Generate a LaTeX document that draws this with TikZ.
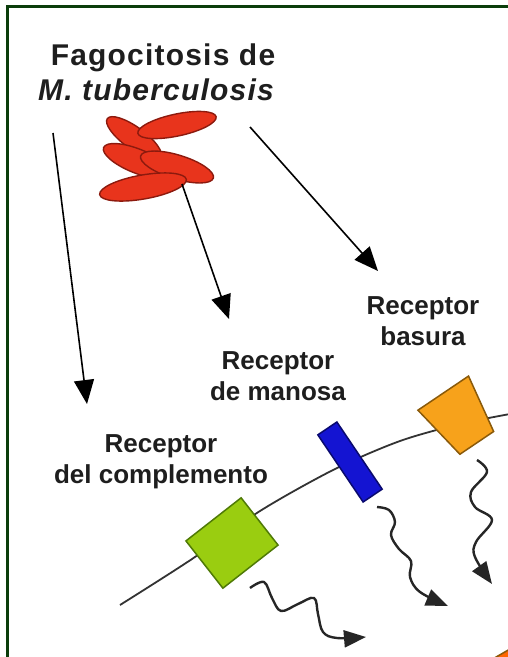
\documentclass[tikz,border=0pt]{standalone}
\usepackage{fontspec}
\setmainfont{Liberation Sans}
\usetikzlibrary{arrows.meta,shapes.geometric}

\definecolor{framegreen}{HTML}{0B3D0B}
\definecolor{bacred}{HTML}{E8341C}
\definecolor{bacedge}{HTML}{8C1A0E}
\definecolor{compgreen}{HTML}{9ACD10}
\definecolor{compedge}{HTML}{4F7A06}
\definecolor{manblue}{HTML}{1414D2}
\definecolor{manedge}{HTML}{0A0A6E}
\definecolor{basorange}{HTML}{F7A21B}
\definecolor{basedge}{HTML}{8A5A0A}
\definecolor{labelgray}{HTML}{1E1E1E}

\begin{document}
\begin{tikzpicture}[x=1pt,y=-1pt]
			\tikzstyle{bacillus}=[ellipse,draw=bacedge,fill=bacred,line width=1.4pt,inner sep=0pt,minimum height=24pt]
			\tikzstyle{receptor}=[font=\fontsize{26}{31}\selectfont\bfseries,text=labelgray,align=center,anchor=north,inner sep=0pt]
			\tikzstyle{heading}=[font=\fontsize{30}{35}\selectfont\bfseries\addfontfeature{LetterSpace=4},text=labelgray,anchor=base,inner sep=0pt]
			\tikzstyle{entry}=[draw=black,line width=1.6pt,-{Triangle[length=24pt,width=20pt]}]
			\tikzstyle{signal}=[draw=black!85,line width=2.4pt,-{Triangle[length=22pt,width=17pt]}]

			\useasboundingbox (0,0) rectangle (508,657);
			\clip (0,0) rectangle (508,657);
			\draw[framegreen,line width=3pt] (508,6) -- (7,6) -- (7,657);

			\node[heading] (title) at (163,65) {Fagocitosis de};
			\node[heading,font=\fontsize{30}{35}\selectfont\bfseries\itshape\addfontfeature{LetterSpace=4}] (species) at (156,100) {M. tuberculosis};

			\node[bacillus,minimum width=66pt,minimum height=22pt,rotate=-36] (bacB) at (134,138) {};
			\node[bacillus,minimum width=80pt,minimum height=22pt,rotate=12] (bacA) at (177,125) {};
			\node[bacillus,minimum width=72pt,rotate=-22] (bacC) at (137,161) {};
			\node[bacillus,minimum width=76pt,rotate=-17] (bacD) at (177,167) {};
			\node[bacillus,minimum width=88pt,rotate=10] (bacE) at (143,187) {};

			\node[receptor] (lblBasura) at (423,296) {Receptor\\basura};
			\node[receptor] (lblManosa) at (278,351) {Receptor\\de manosa};
			\node[receptor] (lblComplemento) at (161,434) {Receptor\\del complemento};

			\coordinate (fromL) at (53,133);
			\coordinate (toL) at (87,404);
			\coordinate (fromM) at (182,184);
			\coordinate (toM) at (229,319);
			\coordinate (fromR) at (250,127);
			\coordinate (toR) at (378,271);
			\draw[entry] (fromL) -- (toL);
			\draw[entry] (fromM) -- (toM);
			\draw[entry] (fromR) -- (toR);

			\draw[black!80,line width=1.8pt] plot[smooth] coordinates {(120,605) (192,559) (260,511) (335,469) (400,441) (460,424) (510,414)};

			\node[draw=compedge,fill=compgreen,line width=1.5pt,minimum width=70pt,minimum height=60pt,inner sep=0pt,rotate=38] (comp) at (232,543) {};
			\node[draw=manedge,fill=manblue,line width=1.5pt,minimum width=81pt,minimum height=23pt,inner sep=0pt,rotate=-56] (man) at (350,462) {};
			\node[trapezium,draw=basedge,fill=basorange,line width=1.5pt,trapezium left angle=76,trapezium right angle=76,trapezium stretches=true,minimum width=61pt,minimum height=60pt,inner sep=2pt,rotate=-146] (bas) at (460,418) {};
			\node[draw=basedge,fill=orange!80!red,line width=1.5pt,minimum size=30pt,rotate=30] (next) at (514,664) {};

			\coordinate (sigComp) at (250,588);
			\coordinate (sigMan) at (377,507);
			\coordinate (sigBas) at (477,460);
			\draw[signal] plot[smooth,tension=0.6] coordinates {(sigComp) (264,582) (272,598) (281,611) (298,604) (314,598) (318,614) (323,632) (337,638) (366,637)};
			\draw[signal] plot[smooth,tension=0.6] coordinates {(sigMan) (389,510) (395,522) (391,535) (399,549) (411,561) (410,577) (420,592) (448,606)};
			\draw[signal] plot[smooth,tension=0.6] coordinates {(sigBas) (487,472) (471,492) (475,507) (492,520) (476,542) (475,557) (492,584)};
		\end{tikzpicture}
\end{document}
